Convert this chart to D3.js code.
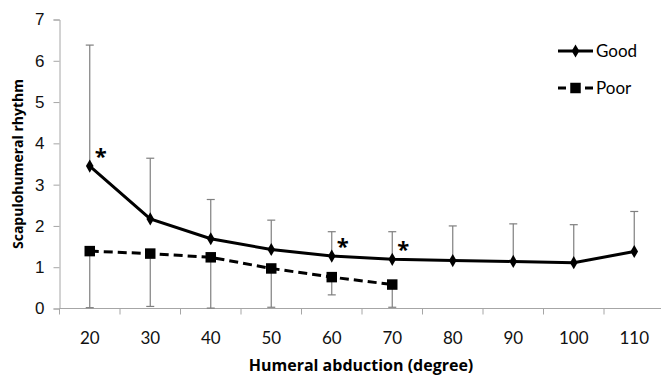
<!DOCTYPE html>
<html>
<head>
<meta charset="utf-8">
<script src="https://cdn.jsdelivr.net/npm/d3@7"></script>
<style>
  body { margin: 0; background: #fff; }
  svg { display: block; font-family: Lato, "Open Sans", sans-serif; }
</style>
</head>
<body>
<svg id="chart" width="661" height="375"></svg>
<script>
// data
var angles = [20, 30, 40, 50, 60, 70, 80, 90, 100, 110];
var goodMean = [3.45, 2.17, 1.69, 1.43, 1.27, 1.19, 1.16, 1.14, 1.11, 1.38];
var goodUpper = [6.38, 3.64, 2.64, 2.14, 1.86, 1.86, 2.0, 2.05, 2.03, 2.35];
var poorMean = [1.39, 1.33, 1.24, 0.97, 0.76, 0.58];
var poorLower = [0.02, 0.05, 0.01, 0.03, 0.33, 0.03];
var starAngles = [20, 60, 70];
var yTicks = [0, 1, 2, 3, 4, 5, 6, 7];

var svg = d3.select("#chart");

var x = d3.scaleBand()
    .domain(angles)
    .range([59.5, 664.5]);

var y = d3.scaleLinear()
    .domain([0, 7])
    .range([308.5, 19.5]);

var cx = function(a) { return x(a) + x.bandwidth() / 2; };

// y axis
var yAxis = svg.append("g")
    .attr("transform", "translate(" + x.range()[0] + ",0)")
    .call(d3.axisLeft(y).tickValues(yTicks).tickFormat(d3.format("d")).tickSize(6).tickPadding(9));
yAxis.select(".domain").attr("stroke", "#a6a6a6");
yAxis.selectAll(".tick line").attr("stroke", "#a6a6a6");
yAxis.selectAll(".tick text").attr("font-size", 17).attr("fill", "#111");

// x axis, ticks between categories
var xAxis = svg.append("g")
    .attr("transform", "translate(0," + y(0) + ")");
xAxis.append("line")
    .attr("x1", x.range()[0]).attr("x2", x.range()[1])
    .attr("stroke", "#a6a6a6");
xAxis.selectAll(".sep")
    .data(angles)
    .enter().append("line")
    .attr("x1", function(d) { return x(d); })
    .attr("x2", function(d) { return x(d); })
    .attr("y1", 0).attr("y2", 6)
    .attr("stroke", "#a6a6a6");
xAxis.selectAll(".lab")
    .data(angles)
    .enter().append("text")
    .attr("x", cx)
    .attr("y", 35)
    .attr("text-anchor", "middle")
    .attr("font-size", 17)
    .attr("fill", "#111")
    .text(function(d) { return d; });

// error bars
function errorBars(means, ends) {
  var g = svg.append("g").attr("stroke", "#7f7f7f").attr("stroke-width", 1.2);
  var data = means.map(function(m, i) { return { a: angles[i], m: m, e: ends[i] }; });
  g.selectAll("line.v").data(data).enter().append("line")
      .attr("x1", function(d) { return cx(d.a); })
      .attr("x2", function(d) { return cx(d.a); })
      .attr("y1", function(d) { return y(d.m); })
      .attr("y2", function(d) { return y(d.e); });
  g.selectAll("line.c").data(data).enter().append("line")
      .attr("x1", function(d) { return cx(d.a) - 4; })
      .attr("x2", function(d) { return cx(d.a) + 4; })
      .attr("y1", function(d) { return y(d.e); })
      .attr("y2", function(d) { return y(d.e); });
}
errorBars(goodMean, goodUpper);
errorBars(poorMean, poorLower);

var line = d3.line()
    .x(function(d, i) { return cx(angles[i]); })
    .y(function(d) { return y(d); });

svg.append("path")
    .datum(poorMean)
    .attr("d", line)
    .attr("fill", "none")
    .attr("stroke", "#000")
    .attr("stroke-width", 3)
    .attr("stroke-dasharray", "9,5");

svg.append("path")
    .datum(goodMean)
    .attr("d", line)
    .attr("fill", "none")
    .attr("stroke", "#000")
    .attr("stroke-width", 3);

var diamond = d3.symbol().type(d3.symbolDiamond).size(50);
var square = d3.symbol().type(d3.symbolSquare).size(110);

svg.selectAll(".gm").data(goodMean).enter().append("path")
    .attr("d", diamond)
    .attr("transform", function(d, i) { return "translate(" + cx(angles[i]) + "," + y(d) + ")"; })
    .attr("fill", "#000");

svg.selectAll(".pm").data(poorMean).enter().append("path")
    .attr("d", square)
    .attr("transform", function(d, i) { return "translate(" + cx(angles[i]) + "," + y(d) + ")"; })
    .attr("fill", "#000");

// significance stars
svg.selectAll(".star").data(starAngles).enter().append("text")
    .attr("x", function(a) { return cx(a) + 5; })
    .attr("y", function(a) { return y(goodMean[angles.indexOf(a)]) - 2; })
    .attr("font-family", "'Open Sans', sans-serif")
    .attr("font-size", 22)
    .attr("font-weight", "bold")
    .text("*");

// legend
var legend = svg.append("g");
legend.append("line")
    .attr("x1", 558).attr("x2", 593).attr("y1", 51).attr("y2", 51)
    .attr("stroke", "#000").attr("stroke-width", 3);
legend.append("path").attr("d", diamond)
    .attr("transform", "translate(575.5,51)");
legend.append("text").attr("x", 596).attr("y", 57).attr("font-size", 17).text("Good");
legend.append("line")
    .attr("x1", 558).attr("x2", 593).attr("y1", 88).attr("y2", 88)
    .attr("stroke", "#000").attr("stroke-width", 3).attr("stroke-dasharray", "8,19,8");
legend.append("path").attr("d", square)
    .attr("transform", "translate(575.5,88)");
legend.append("text").attr("x", 596).attr("y", 94).attr("font-size", 17).text("Poor");

// axis titles
svg.append("text")
    .attr("x", 361).attr("y", 371)
    .attr("text-anchor", "middle")
    .attr("font-family", "'Open Sans', sans-serif")
    .attr("font-size", 16)
    .attr("font-weight", "bold")
    .text("Humeral abduction (degree)");

svg.append("text")
    .attr("transform", "translate(23,164) rotate(-90)")
    .attr("text-anchor", "middle")
    .attr("font-family", "'Open Sans', sans-serif")
    .attr("font-size", 14)
    .attr("font-weight", "bold")
    .text("Scapulohumeral rhythm");
</script>
</body>
</html>
